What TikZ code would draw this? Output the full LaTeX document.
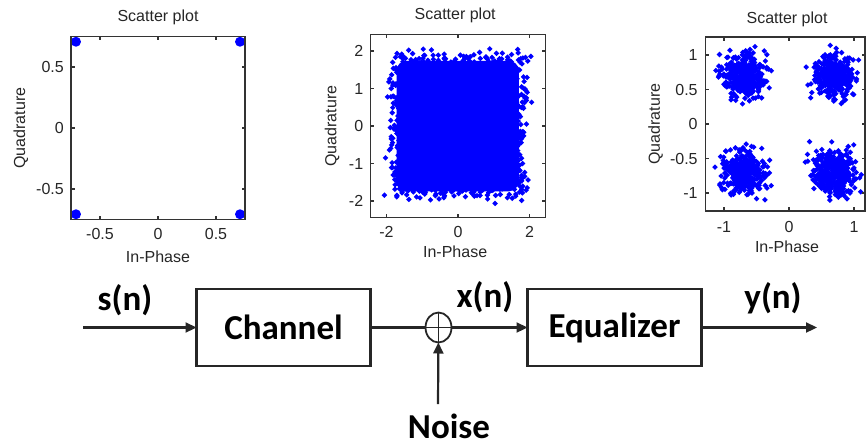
\documentclass[tikz,border=0pt]{standalone}
\usepackage{fontspec}
\setmainfont{Liberation Sans}
\newfontfamily\califont{Carlito}
\usetikzlibrary{arrows.meta, positioning, shapes.geometric}
\tikzset{
  axbox/.style={draw=black!80, line width=1.2pt},
  ticklab/.style={font=\fontsize{16}{18}\selectfont, text=black!85, inner sep=0pt},
  axlab/.style={font=\fontsize{16}{18}\selectfont, text=black!85, inner sep=0pt},
  ptmark/.style={fill=blue},
  block/.style={rectangle, draw=black!85, line width=2.2pt, outer sep=0pt,
                minimum width=174pt, minimum height=77pt,
                font=\califont\bfseries\fontsize{35}{40}\selectfont},
  sumnode/.style={ellipse, draw=black!85, line width=1.8pt, outer sep=0pt, inner sep=0pt,
                  minimum width=26pt, minimum height=30pt,
                  path picture={\draw[black!85, line width=1.8pt]
                    (path picture bounding box.north) -- (path picture bounding box.south)
                    (path picture bounding box.west) -- (path picture bounding box.east);}},
  sig/.style={font=\califont\bfseries\fontsize{35}{40}\selectfont, inner sep=0pt},
  arrow/.style={-{Triangle[length=11pt, width=10pt]}, draw=black!85, line width=2.2pt},
  wire/.style={draw=black!85, line width=2.2pt},
}
\begin{document}
\begin{tikzpicture}[x=1pt, y=-1pt]
  \useasboundingbox (0,0) rectangle (866,447);

  % scatter plot 1: transmitted QPSK
  \begin{scope}[shift={(158,128)}, x=116pt, y=122pt]
    \foreach \sx/\sy in {-1/1,1/1,-1/-1,1/-1}
      \fill[ptmark] ({0.707*(\sx)},{0.707*(\sy)}) circle (5pt);
    \draw[axbox] (-0.75,-0.75) rectangle (0.75,0.75);
    \foreach \tk in {-0.5,0,0.5} {
      \draw[axbox] (\tk,-0.75) -- ++(0,3.5pt) (\tk,0.75) -- ++(0,-3.5pt)
                   (-0.75,\tk) -- ++(3.5pt,0) (0.75,\tk) -- ++(-3.5pt,0);
      \node[ticklab, anchor=north, yshift=-9pt] at (\tk,-0.75) {\tk};
      \node[ticklab, anchor=east, xshift=-7pt] at (-0.75,\tk) {\tk};
    }
    \node[axlab, anchor=base, yshift=15pt] (ttl1) at (0,0.75) {Scatter plot};
    \node[axlab, anchor=base, yshift=-43pt] (xl1) at (0,-0.75) {In-Phase};
    \node[axlab, anchor=base, xshift=-46pt, rotate=90] (yl1) at (-0.75,0) {Quadrature};
  \end{scope}

  % scatter plot 2: channel output
  \begin{scope}[shift={(458,126)}, x=35.75pt, y=37.5pt]
    \pgfmathsetseed{11}
    \fill[ptmark, rounded corners=10pt] (-1.72,-1.74) rectangle (1.7,1.74);
    \foreach \k in {1,...,1700} {
      \pgfmathsetmacro\pu{1.84*rand+0.11*(rand+rand+rand)}
      \pgfmathsetmacro\pv{1.86*rand+0.11*(rand+rand+rand)}
      \fill[ptmark] (\pu,\pv) +(0,2.8pt) -- +(2.8pt,0) -- +(0,-2.8pt) -- +(-2.8pt,0) -- cycle;
    }
    \draw[axbox] (-2.45,-2.43) rectangle (2.45,2.43);
    \foreach \tk in {-2,0,2} {
      \draw[axbox] (\tk,-2.43) -- ++(0,3.5pt) (\tk,2.43) -- ++(0,-3.5pt);
      \node[ticklab, anchor=north, yshift=-9pt] at (\tk,-2.43) {\tk};
    }
    \foreach \tk in {-2,-1,0,1,2} {
      \draw[axbox] (-2.45,\tk) -- ++(3.5pt,0) (2.45,\tk) -- ++(-3.5pt,0);
      \node[ticklab, anchor=east, xshift=-7pt] at (-2.45,\tk) {\tk};
    }
    \node[axlab, anchor=base, yshift=15pt] (ttl2) at (-0.08,2.43) {Scatter plot};
    \node[axlab, anchor=base, yshift=-40pt] (xl2) at (-0.08,-2.43) {In-Phase};
    \node[axlab, anchor=base, xshift=-34pt, rotate=90] (yl2) at (-2.45,0) {Quadrature};
  \end{scope}

  % scatter plot 3: equalizer output
  \begin{scope}[shift={(789,124)}, x=65pt, y=69pt]
    \pgfmathsetseed{5}
    \begin{scope}
      \clip (-1.28,-1.26) rectangle (1.17,1.26);
      \foreach \sx/\sy in {-1/1,1/1,-1/-1,1/-1}
        \foreach \k in {1,...,380} {
          \pgfmathsetmacro\pu{0.7*(\sx)+0.135*(rand+rand+rand+rand)}
          \pgfmathsetmacro\pv{0.7*(\sy)+0.135*(rand+rand+rand+rand)}
          \fill[ptmark] (\pu,\pv) +(0,2.8pt) -- +(2.8pt,0) -- +(0,-2.8pt) -- +(-2.8pt,0) -- cycle;
        }
    \end{scope}
    \draw[axbox] (-1.28,-1.26) rectangle (1.17,1.26);
    \foreach \tk in {-1,0,1} {
      \draw[axbox] (\tk,-1.26) -- ++(0,3.5pt) (\tk,1.26) -- ++(0,-3.5pt);
      \node[ticklab, anchor=north, yshift=-10pt] at (\tk,-1.26) {\tk};
    }
    \foreach \tk in {-1,-0.5,0,0.5,1} {
      \draw[axbox] (-1.28,\tk) -- ++(3.5pt,0) (1.17,\tk) -- ++(-3.5pt,0);
      \node[ticklab, anchor=east, xshift=-8pt] at (-1.28,\tk) {\tk};
    }
    \node[axlab, anchor=base, yshift=14pt] (ttl3) at (-0.03,1.26) {Scatter plot};
    \node[axlab, anchor=base, yshift=-42pt] (xl3) at (-0.03,-1.26) {In-Phase};
    \node[axlab, anchor=base, xshift=-46pt, rotate=90] (yl3) at (-1.28,0) {Quadrature};
  \end{scope}

  % block diagram
  \node[block] (chan) at (283.5,327.5) {Channel};
  \node[sumnode, right=55pt of chan] (sum) {};
  \node[block, right=76pt of sum] (eq) {Equalizer};
  \node[sig, anchor=base] (noise) at (449,438) {Noise};
  \coordinate (sin) at (83,327.5);
  \coordinate (yout) at (817,327.5);
  \coordinate (nz) at (438,404);

  \node[sig] (sn) at (125,300) {s(n)};
  \node[sig] (xn) at (485,297.5) {x(n)};
  \node[sig] (yn) at (773,298.5) {y(n)};

  \draw[arrow] (sin) -- (chan);
  \draw[wire] (chan) -- (sum);
  \draw[arrow] (sum) -- (eq);
  \draw[arrow] (eq) -- (yout);
  \draw[arrow] (nz) -- (sum);
\end{tikzpicture}
\end{document}
